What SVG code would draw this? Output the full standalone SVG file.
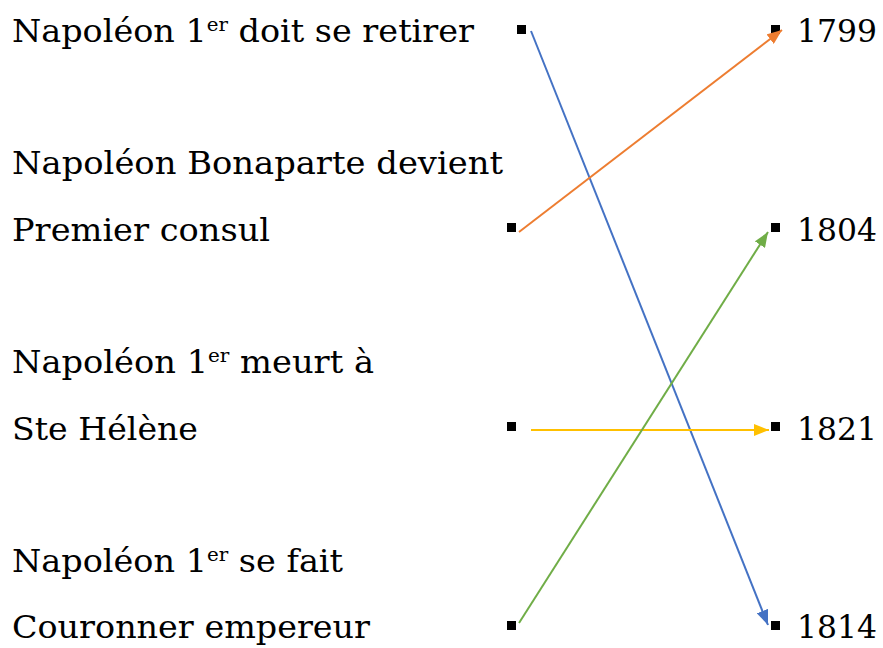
<svg xmlns="http://www.w3.org/2000/svg" width="883" height="648" viewBox="0 0 883 648">
<style>
text{font-family:"DejaVu Serif","Liberation Serif",serif;font-size:32px;fill:#000}
.sup{font-size:19px}
.sq{fill:#000}
.c{fill:none;stroke-width:2}
</style>
<defs>
<marker id="ab" viewBox="0 0 15 12" refX="15" refY="6" markerWidth="15" markerHeight="12" orient="auto" markerUnits="userSpaceOnUse"><path d="M0,0L15,6L0,12z" fill="#4472C4"/></marker>
<marker id="ao" viewBox="0 0 15 12" refX="15" refY="6" markerWidth="15" markerHeight="12" orient="auto" markerUnits="userSpaceOnUse"><path d="M0,0L15,6L0,12z" fill="#ED7D31"/></marker>
<marker id="ay" viewBox="0 0 15 12" refX="15" refY="6" markerWidth="15" markerHeight="12" orient="auto" markerUnits="userSpaceOnUse"><path d="M0,0L15,6L0,12z" fill="#FFC000"/></marker>
<marker id="ag" viewBox="0 0 15 12" refX="15" refY="6" markerWidth="15" markerHeight="12" orient="auto" markerUnits="userSpaceOnUse"><path d="M0,0L15,6L0,12z" fill="#70AD47"/></marker>
</defs>
<g id="left1"><text x="12" y="42" textLength="462" lengthAdjust="spacingAndGlyphs">Napoléon 1<tspan class="sup" dy="-11">er</tspan><tspan dy="11"> doit se retirer</tspan></text><rect class="sq" x="517" y="25" width="9" height="9"/></g>
<g id="left2"><text x="12" y="174" textLength="491" lengthAdjust="spacingAndGlyphs">Napoléon Bonaparte devient</text><text x="12" y="241" textLength="258" lengthAdjust="spacingAndGlyphs">Premier consul</text><rect class="sq" x="507" y="223" width="9" height="9"/></g>
<g id="left3"><text x="12" y="373" textLength="362" lengthAdjust="spacingAndGlyphs">Napoléon 1<tspan class="sup" dy="-11">er</tspan><tspan dy="11"> meurt à</tspan></text><text x="12" y="440" textLength="186" lengthAdjust="spacingAndGlyphs">Ste Hélène</text><rect class="sq" x="507" y="422" width="9" height="9"/></g>
<g id="left4"><text x="12" y="572" textLength="331" lengthAdjust="spacingAndGlyphs">Napoléon 1<tspan class="sup" dy="-11">er</tspan><tspan dy="11"> se fait</tspan></text><text x="12" y="638" textLength="358" lengthAdjust="spacingAndGlyphs">Couronner empereur</text><rect class="sq" x="507" y="621" width="9" height="9"/></g>
<g id="r1799"><rect class="sq" x="771" y="25" width="9" height="9"/><text x="797" y="42" textLength="80" lengthAdjust="spacingAndGlyphs">1799</text></g>
<g id="r1804"><rect class="sq" x="771" y="223" width="9" height="9"/><text x="797" y="241" textLength="80" lengthAdjust="spacingAndGlyphs">1804</text></g>
<g id="r1821"><rect class="sq" x="771" y="422" width="9" height="9"/><text x="797" y="440" textLength="80" lengthAdjust="spacingAndGlyphs">1821</text></g>
<g id="r1814"><rect class="sq" x="771" y="621" width="9" height="9"/><text x="797" y="638" textLength="80" lengthAdjust="spacingAndGlyphs">1814</text></g>
<g id="connectors">
<line class="c" x1="531" y1="31" x2="768" y2="625" stroke="#4472C4" marker-end="url(#ab)"/>
<line class="c" x1="519" y1="232" x2="782" y2="30" stroke="#ED7D31" marker-end="url(#ao)"/>
<line class="c" x1="531" y1="430" x2="769" y2="430" stroke="#FFC000" marker-end="url(#ay)"/>
<line class="c" x1="519" y1="623" x2="768" y2="232" stroke="#70AD47" marker-end="url(#ag)"/>
</g>
</svg>
